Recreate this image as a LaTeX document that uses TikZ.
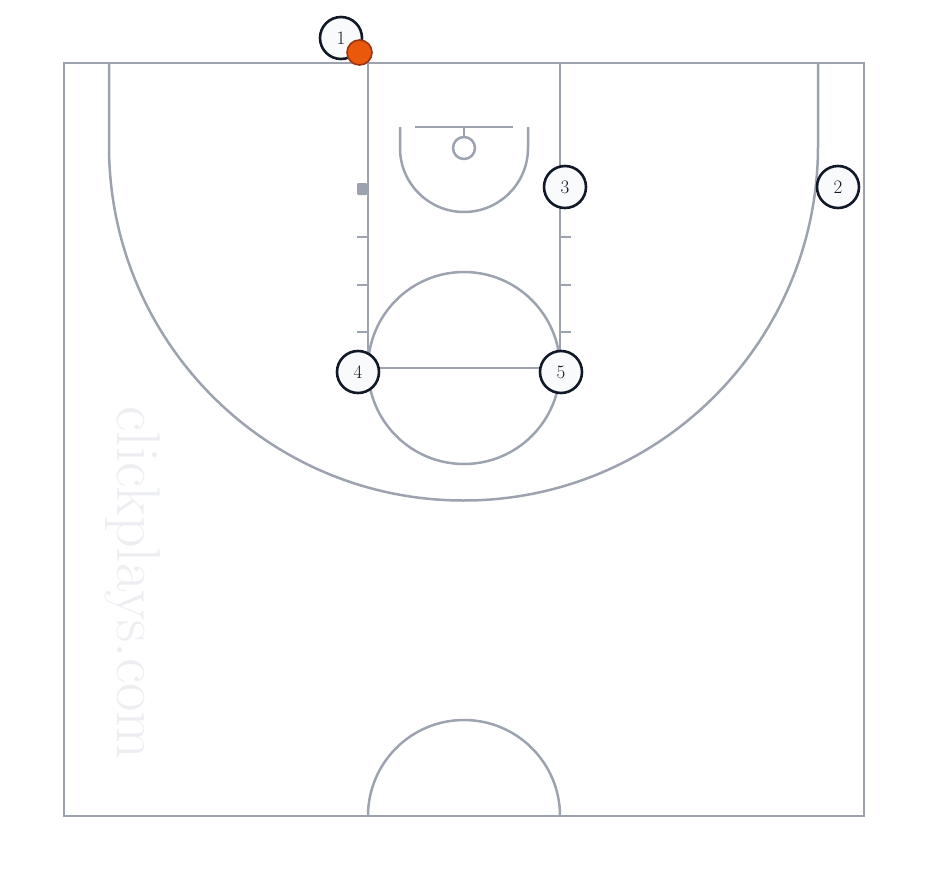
\documentclass[tikz,border=0pt]{standalone}
\usepackage{tikz}
\definecolor{courtgray}{HTML}{9CA3AF}
\definecolor{navy}{HTML}{111827}
\definecolor{playerfill}{HTML}{F8FAFC}
\definecolor{wmgray}{HTML}{ECEEF1}
\definecolor{ballorange}{HTML}{EA580C}
\definecolor{balledge}{HTML}{9A3412}
\begin{document}
\begin{tikzpicture}[x=1pt,y=-1pt,
  court/.style={draw=courtgray, line width=2.5pt},
  player/.style={circle, draw=navy, fill=playerfill, line width=2.6pt, minimum size=42pt, inner sep=0pt, font=\fontsize{19}{19}\selectfont, text=navy},
  ball/.style={circle, draw=balledge, fill=ballorange, line width=1.6pt, minimum size=25pt, inner sep=0pt}]
\useasboundingbox (0,0) rectangle (928,880);
% watermark
\node[rotate=-90, text=wmgray, font=\fontsize{62}{62}\selectfont] (wm) at (133,583) {clickplays.com};
% court outline
\draw[court] (64,63) rectangle (864,816);
% three point line
\draw[court] (109,63) -- (109,146) arc[start angle=180, end angle=0, radius=354.5] -- (818,63);
% lane
\draw[court] (368,63) rectangle (560,368);
% free throw circle
\draw[court] (464,368) circle[radius=96];
% hash marks
\foreach \yy in {237,285,332}{
  \draw[court] (357,\yy) -- (368,\yy);
  \draw[court] (560,\yy) -- (571,\yy);
}
\fill[courtgray, rounded corners=1pt] (357,183) rectangle (367,195);
\fill[courtgray, rounded corners=1pt] (561,183) rectangle (571,195);
% backboard and rim
\draw[court] (415,127) -- (513,127);
\draw[court] (464,127) -- (464,137);
\draw[court] (464,148) circle[radius=11];
% restricted area
\draw[court] (400,127) -- (400,148) arc[start angle=180, end angle=0, radius=64] -- (528,127);
% half court circle
\draw[court] (368,816) arc[start angle=180, end angle=360, radius=96];
% players
\node[player] (p1) at (341,38) {1};
\node[player] (p2) at (838,187) {2};
\node[player] (p3) at (565,187) {3};
\node[player] (p4) at (358,372) {4};
\node[player] (p5) at (561,372) {5};
% ball
\node[ball] (b) at (359.5,52.5) {};
\end{tikzpicture}
\end{document}
